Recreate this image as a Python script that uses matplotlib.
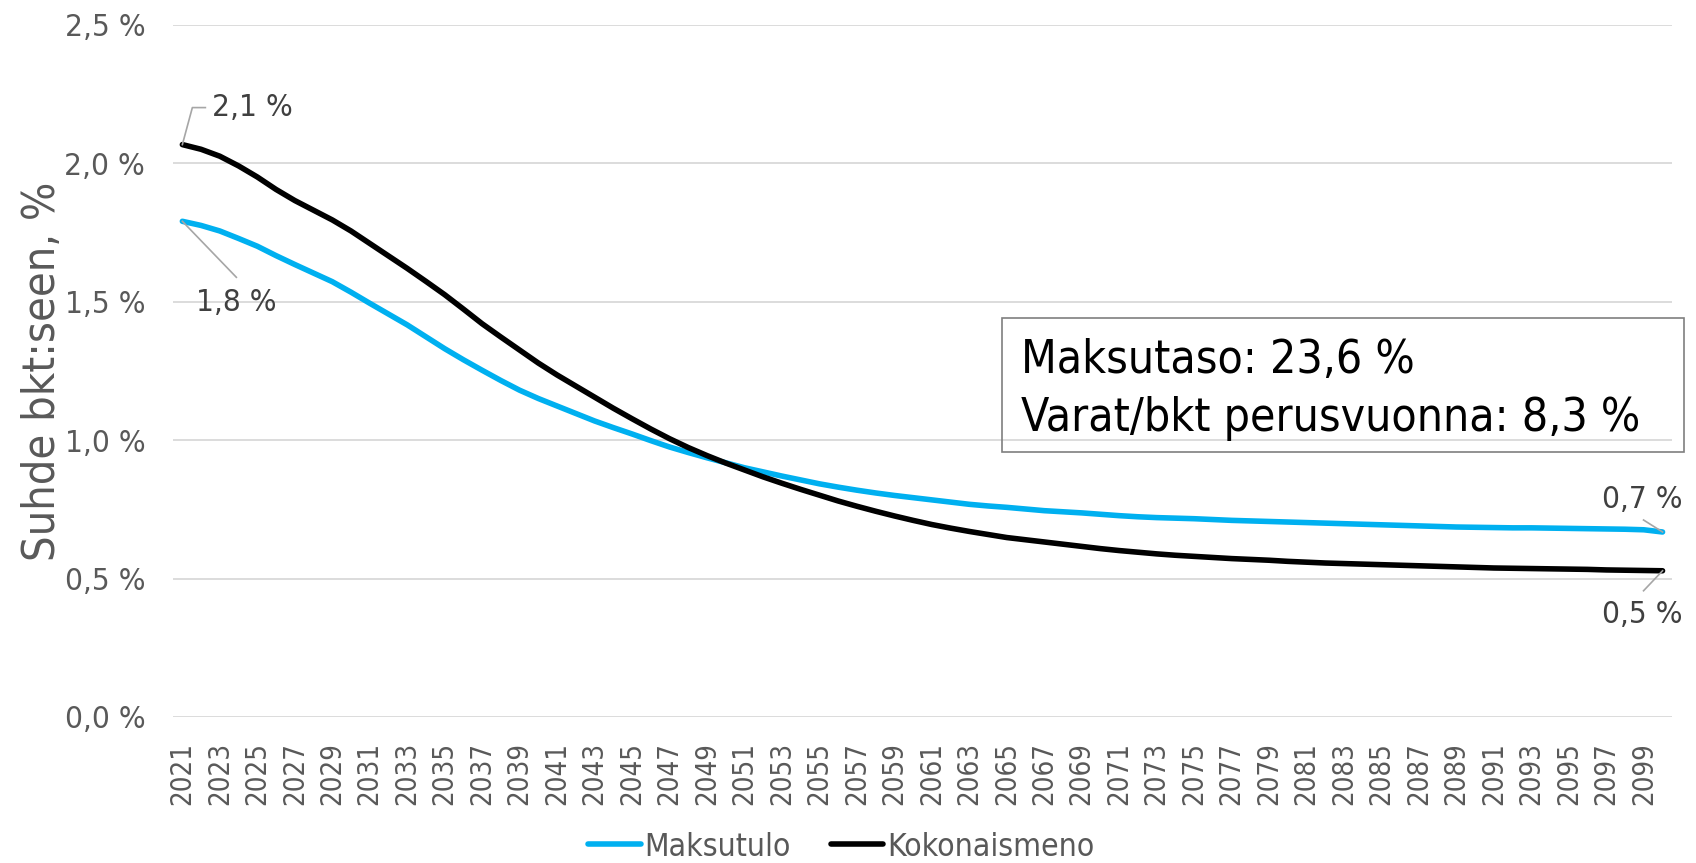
import numpy as np
import matplotlib
matplotlib.use("Agg")
import matplotlib.pyplot as plt
from matplotlib import font_manager
from matplotlib.lines import Line2D
from matplotlib.patches import Rectangle
from matplotlib.transforms import IdentityTransform

years = list(range(2021, 2101))

maksutulo = [
    1.790, 1.775, 1.755, 1.728, 1.700, 1.666, 1.634, 1.603, 1.572, 1.534,
    1.494, 1.455, 1.416, 1.373, 1.330, 1.290, 1.252, 1.215, 1.180, 1.150,
    1.123, 1.096, 1.069, 1.045, 1.022, 0.998, 0.975, 0.955, 0.936, 0.918,
    0.900, 0.885, 0.870, 0.856, 0.842, 0.830, 0.819, 0.809, 0.800, 0.792,
    0.784, 0.776, 0.768, 0.762, 0.757, 0.751, 0.745, 0.741, 0.737, 0.732,
    0.727, 0.723, 0.720, 0.718, 0.716, 0.713, 0.710, 0.708, 0.706, 0.704,
    0.702, 0.700, 0.698, 0.696, 0.694, 0.692, 0.690, 0.688, 0.686, 0.685,
    0.684, 0.683, 0.683, 0.682, 0.681, 0.680, 0.679, 0.678, 0.676, 0.668,
]

kokonaismeno = [
    2.067, 2.050, 2.025, 1.990, 1.950, 1.905, 1.865, 1.830, 1.795, 1.755,
    1.710, 1.665, 1.620, 1.573, 1.525, 1.473, 1.420, 1.372, 1.325, 1.278,
    1.235, 1.195, 1.155, 1.115, 1.077, 1.040, 1.005, 0.973, 0.944, 0.917,
    0.892, 0.867, 0.844, 0.822, 0.801, 0.780, 0.761, 0.743, 0.726, 0.710,
    0.695, 0.682, 0.670, 0.659, 0.648, 0.640, 0.632, 0.624, 0.616, 0.608,
    0.601, 0.595, 0.589, 0.584, 0.580, 0.576, 0.572, 0.569, 0.566, 0.562,
    0.559, 0.556, 0.554, 0.552, 0.550, 0.548, 0.546, 0.544, 0.542, 0.540,
    0.538, 0.537, 0.536, 0.535, 0.534, 0.533, 0.531, 0.530, 0.529, 0.528,
]

series_names = ["Maksutulo", "Kokonaismeno"]
series_colors = ["#00B0F0", "#000000"]
y_ticks = [0.0, 0.5, 1.0, 1.5, 2.0, 2.5]
y_label = "Suhde bkt:seen, %"
box_lines = ["Maksutaso: 23,6 %", "Varat/bkt perusvuonna: 8,3 %"]


def pct(v):
    return f"{v:.1f} %".replace(".", ",")


# Use a condensed DejaVu Sans if one is installed (closer to the narrow reference font)
has_cond = any(f.name == "DejaVu Sans" and f.stretch == "condensed"
               for f in font_manager.fontManager.ttflist)
plt.rcParams["font.family"] = ["DejaVu Sans"]
k = 1.0
if has_cond:
    plt.rcParams["font.stretch"] = "condensed"
    k = 1.1

TXT = "#595959"
LBL = "#404040"

fig = plt.figure(figsize=(16.96, 8.63), dpi=100)
ax = fig.add_axes([0.1020, 0.1692, 0.8838, 0.8022])

x = np.arange(len(years))
ax.set_xlim(-0.5, len(years) - 0.5)
ax.set_ylim(0, 2.5)

ax.set_yticks(y_ticks)
ax.set_yticklabels([pct(v) for v in y_ticks])
ax.tick_params(axis="y", length=0, pad=20, labelsize=20.5 * k, labelcolor=TXT)
ax.set_xticks(x[::2])
ax.set_xticklabels([str(y) for y in years[::2]], rotation=90, va="top", ha="center")
ax.tick_params(axis="x", length=0, pad=18, labelsize=18 * k, labelcolor=TXT)

for s in ax.spines.values():
    s.set_visible(False)
ax.grid(axis="y", color="#d9d9d9", lw=1.3)
ax.set_axisbelow(True)

ax.set_ylabel(y_label, fontsize=29.5 * k, color=TXT)
ax.yaxis.set_label_coords(-0.0727, 0.5)

handles = []
for vals, name, col in zip([maksutulo, kokonaismeno], series_names, series_colors):
    h, = ax.plot(x, vals, color=col, lw=4.0, solid_capstyle="round", label=name, zorder=3)
    handles.append(h)

fig.canvas.draw()


def leader(xi, yi, offs):
    px, py = ax.transData.transform((xi, yi))
    xs = [px + o[0] for o in offs]
    ys = [py + o[1] for o in offs]
    fig.add_artist(Line2D(xs, ys, transform=IdentityTransform(), color="#a6a6a6", lw=1.2, zorder=2))


def label(xi, yi, txt, dx, dy, ha):
    ax.annotate(txt, xy=(xi, yi), xytext=(dx, dy), textcoords="offset pixels",
                ha=ha, va="center", fontsize=20.5 * k, color=LBL)


i0, i1 = 0, len(years) - 1
# start values
leader(x[i0], kokonaismeno[i0], [(0, 0), (10, 37), (23, 37)])
label(x[i0], kokonaismeno[i0], pct(kokonaismeno[i0]), 30, 37, "left")
leader(x[i0], maksutulo[i0], [(0, 0), (54, -56)])
label(x[i0], maksutulo[i0], pct(maksutulo[i0]), 54, -81, "center")
# end values
leader(x[i1], maksutulo[i1], [(0, 0), (-19, 12)])
label(x[i1], maksutulo[i1], pct(maksutulo[i1]), -20, 32, "center")
leader(x[i1], kokonaismeno[i1], [(0, 0), (-19, -20)])
label(x[i1], kokonaismeno[i1], pct(kokonaismeno[i1]), -20, -44, "center")

# text box
fig.add_artist(Rectangle((1002 / 1696, 1 - 452 / 863), 682 / 1696, 134 / 863,
                         transform=fig.transFigure, facecolor="none",
                         edgecolor="#7f7f7f", lw=1.2, zorder=4))
fig.text(1021 / 1696, 1 - 373 / 863, box_lines[0], fontsize=30.2 * k, color="#000000", va="baseline")
fig.text(1021 / 1696, 1 - 431 / 863, box_lines[1], fontsize=30.2 * k, color="#000000", va="baseline")

fig.legend(handles=handles, loc="center", bbox_to_anchor=(0.496, 1 - 847 / 863), ncol=2,
           frameon=False, fontsize=20.8 * k, labelcolor=TXT, handlelength=1.65,
           handletextpad=0.12, columnspacing=1.25)

fig.savefig("out.png", dpi=100)
